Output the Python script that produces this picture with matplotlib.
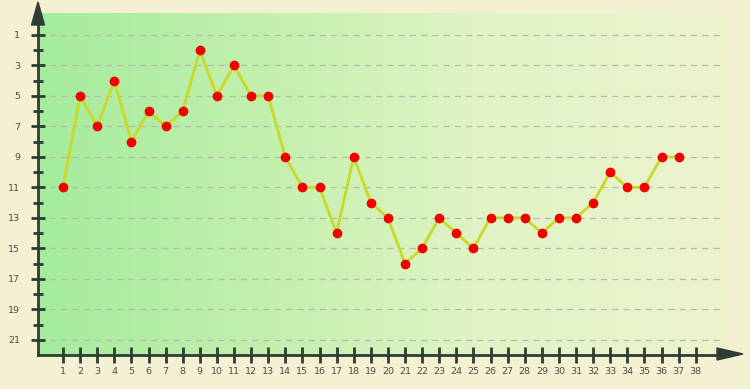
import numpy as np
import matplotlib
matplotlib.use("Agg")
import matplotlib.pyplot as plt
from matplotlib.colors import LinearSegmentedColormap
from matplotlib.patches import Polygon

# Data
x_labels = [str(i) for i in range(1, 39)]
x_vals = list(range(1, 38))
ranks = [11, 5, 7, 4, 8, 6, 7, 6, 2, 5, 3, 5, 5, 9, 11, 11, 14, 9, 12, 13,
         16, 15, 13, 14, 15, 13, 13, 13, 14, 13, 13, 12, 10, 11, 11, 9, 9]
y_major = list(range(1, 22, 2))
y_minor = list(range(2, 22, 2))

W, H = 750, 389
fig = plt.figure(figsize=(W / 100, H / 100), dpi=100)
fig.patch.set_facecolor("#f4f0d2")

left_px, right_px, top_px, bot_px = 38, 725, 13, 355
ax = fig.add_axes([left_px / W, (H - bot_px) / H, (right_px - left_px) / W, (bot_px - top_px) / H])

xlo = 1 + (left_px - 63) / 17.1
xhi = 1 + (right_px - 63) / 17.1
ytop = 1 + (top_px - 35) / 15.25
ybot = 22
ax.set_xlim(xlo, xhi)
ax.set_ylim(ybot, ytop)

# gradient background
cmap = LinearSegmentedColormap.from_list("g", ["#a4ec9c", "#c4f0ae", "#e2f4c6", "#ecf3ce"])
grad = np.linspace(0, 1, 256).reshape(1, -1)
ax.imshow(grad, extent=(xlo, xhi, ybot, ytop), aspect="auto", cmap=cmap, zorder=0)

# grid
for y in y_major:
    ax.axhline(y, color="#b3bdab", lw=0.9, ls=(0, (5, 4)), zorder=1)

ax.plot(x_vals, ranks, color="#c9d924", lw=2.0, zorder=3)
ax.plot(x_vals, ranks, ls="none", marker="o", ms=6.0, mfc="#f20000", mec="#f20000", zorder=4)

axcol = "#2f3c34"
for s in ["top", "right"]:
    ax.spines[s].set_visible(False)
for s in ["left", "bottom"]:
    ax.spines[s].set_color(axcol)
    ax.spines[s].set_linewidth(2.0)

ax.set_xticks(range(1, 39))
ax.set_xticklabels(x_labels)
ax.set_yticks(y_major)
ax.set_yticklabels([str(v) for v in y_major])
ax.set_yticks(y_minor, minor=True)
ax.tick_params(axis="x", direction="inout", length=11, width=2, color=axcol,
               labelsize=6.8, labelcolor="#4a4a4a", pad=3)
ax.tick_params(axis="y", which="major", direction="inout", length=10, width=2, color=axcol,
               labelsize=6.8, labelcolor="#4a4a4a", pad=8)
ax.tick_params(axis="y", which="minor", direction="inout", length=7, width=2, color=axcol)

# arrows in figure pixel coordinates
def fx(px):
    return px / W

def fy(py):
    return (H - py) / H

fig.add_artist(plt.Line2D([fx(38), fx(38)], [fy(13), fy(8)], color=axcol, lw=2.0))
fig.add_artist(Polygon([(fx(38), fy(2)), (fx(31.5), fy(25)), (fx(44.5), fy(25))],
                       closed=True, color=axcol))
fig.add_artist(plt.Line2D([fx(725), fx(730)], [fy(355), fy(355)], color=axcol, lw=2.0))
fig.add_artist(Polygon([(fx(743), fy(354)), (fx(717), fy(348)), (fx(717), fy(360))],
                       closed=True, color=axcol))

fig.savefig("out.png", dpi=100, facecolor=fig.get_facecolor())
